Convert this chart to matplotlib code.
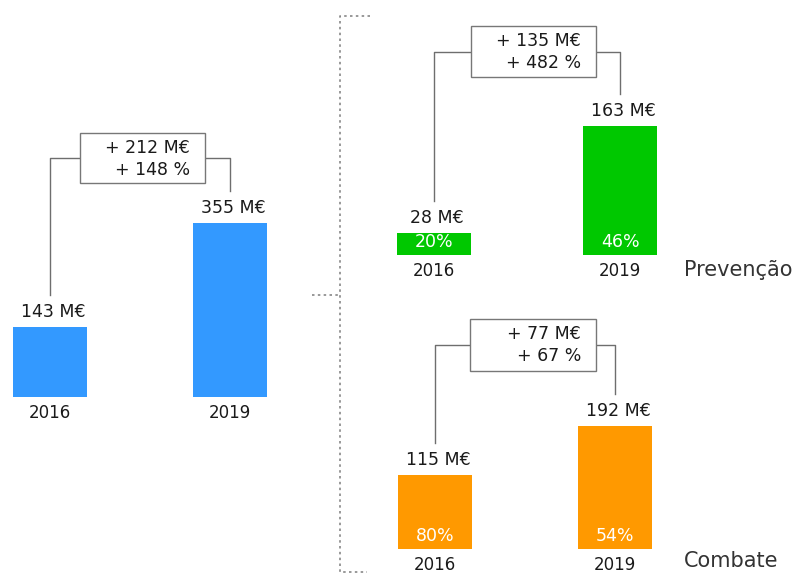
import matplotlib
matplotlib.use("Agg")
import matplotlib.pyplot as plt
from matplotlib.patches import Rectangle
from matplotlib.lines import Line2D

plt.rcParams['font.family'] = ['DejaVu Sans']

# data
years = ['2016', '2019']
total = [143, 355]
prevencao = [28, 163]
combate = [115, 192]
prev_share = ['20%', '46%']
comb_share = ['80%', '54%']
total_diff = ['+ 212 M€', '+ 148 %']
prev_diff = ['+ 135 M€', '+ 482 %']
comb_diff = ['+ 77 M€', '+ 67 %']

W, H = 812, 573
fig = plt.figure(figsize=(W / 100, H / 100), dpi=100)

blue = '#3399ff'
green = '#00c800'
orange = '#ff9900'
txt = '#1a1a1a'
line_c = '#6e6e6e'


def panel(c0, c1, base, scale, box, values, color, diff, shares=None, side=None):
    # axes spanning whole width, from the top of the figure down to the baseline
    ax = fig.add_axes([0, 1 - base / H, 1, base / H])
    ax.set_xlim(-c0 / (c1 - c0), (W - c0) / (c1 - c0))
    ax.set_ylim(0, base / scale)
    ax.axis('off')
    ax.patch.set_alpha(0)

    dx = lambda px: (px - c0) / (c1 - c0)
    dy = lambda py: (base - py) / scale

    xs = [0, 1]
    ax.bar(xs, values, width=74 / (c1 - c0), color=color, linewidth=0)

    for i, v in enumerate(values):
        ax.annotate(f'{v} M€', (xs[i], v), xytext=(3, 15), textcoords='offset pixels',
                    ha='center', va='center', fontsize=12.5, color=txt)
        ax.annotate(years[i], (xs[i], 0), xytext=(0, -16), textcoords='offset pixels',
                    ha='center', va='center', fontsize=12, color=txt)
        if shares:
            ax.annotate(shares[i], (xs[i], 0), xytext=(0, 13), textcoords='offset pixels',
                        ha='center', va='center', fontsize=12.5, color='white')

    bx0, by0, bx1, by1 = box
    ax.add_patch(Rectangle((dx(bx0), dy(by1)), dx(bx1) - dx(bx0), dy(by0) - dy(by1),
                           facecolor='white', edgecolor='#777777', lw=1, clip_on=False, zorder=3))
    ax.text(dx(bx1 - 15), dy(by0 + 15), diff[0], ha='right', va='center',
            fontsize=12.5, color=txt, zorder=4)
    ax.text(dx(bx1 - 15), dy(by0 + 37), diff[1], ha='right', va='center',
            fontsize=12.5, color=txt, zorder=4)

    mid = dy((by0 + by1) / 2)
    gap = 32 / scale
    ax.plot([0, 0, dx(bx0)], [values[0] + gap, mid, mid], color=line_c, lw=1, clip_on=False)
    ax.plot([dx(bx1), 1, 1], [mid, mid, values[1] + gap], color=line_c, lw=1, clip_on=False)

    if side:
        ax.text(dx(684), dy(side[1]), side[0], ha='left', va='center',
                fontsize=15, color='#333333')


panel(50, 230, 397, 0.49, (80, 133, 205, 183), total, blue, total_diff)
panel(434, 620, 255, 0.79, (471, 26, 596, 77), prevencao, green, prev_diff,
      prev_share, ('Prevenção', 270))
panel(435, 615, 549, 0.64, (470, 319, 596, 371), combate, orange, comb_diff,
      comb_share, ('Combate', 561))


# dotted bracket between the panels
def fline(xs, ys):
    fig.add_artist(Line2D([x / W for x in xs], [1 - y / H for y in ys],
                          color='#888888', lw=1.2, linestyle=(0, (1.5, 2))))


fline([370, 340, 340, 367], [16, 16, 572, 572])
fline([312, 340], [295, 295])

fig.savefig('out.png', dpi=100)
